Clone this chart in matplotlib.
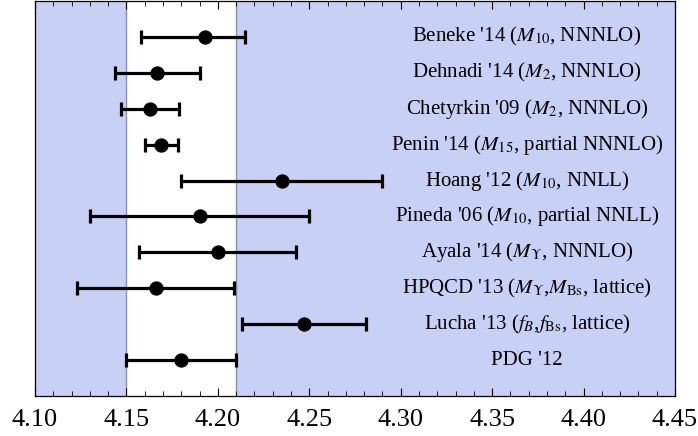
import matplotlib
matplotlib.use("Agg")
import matplotlib.pyplot as plt
from matplotlib.ticker import MultipleLocator, FormatStrFormatter

labels = [
    "Beneke '14 ($M_{10}$, NNNLO)",
    "Dehnadi '14 ($M_{2}$, NNNLO)",
    "Chetyrkin '09 ($M_{2}$, NNNLO)",
    "Penin '14 ($M_{15}$, partial NNNLO)",
    "Hoang '12 ($M_{10}$, NNLL)",
    "Pineda '06 ($M_{10}$, partial NNLL)",
    "Ayala '14 ($M_{\\Upsilon}$, NNNLO)",
    "HPQCD '13 ($M_{\\Upsilon}$,$M_{\\mathrm{Bs}}$, lattice)",
    "Lucha '13 ($f_{B}$,$f_{\\mathrm{Bs}}$, lattice)",
    "PDG '12",
]
centers = [4.193, 4.167, 4.163, 4.169, 4.235, 4.190, 4.200, 4.166, 4.247, 4.180]
err_low = [0.035, 0.023, 0.016, 0.009, 0.055, 0.060, 0.043, 0.043, 0.034, 0.030]
err_high = [0.022, 0.023, 0.016, 0.009, 0.055, 0.060, 0.043, 0.043, 0.034, 0.030]
band_low, band_high = 4.15, 4.21
xmin, xmax = 4.10, 4.45

plt.rcParams['font.family'] = ['Liberation Serif', 'DejaVu Serif']
plt.rcParams['mathtext.fontset'] = 'stix'

fig = plt.figure(figsize=(6.98, 4.36), dpi=100)
ax = fig.add_axes([0.0501, 0.0917, 0.9169, 0.906])

n = len(labels)
ys = [n - i for i in range(n)]

shade = '#c9d0f5'
edge = '#8a90b4'
ax.axvspan(xmin, band_low, color=shade, lw=0, zorder=0)
ax.axvspan(band_high, xmax, color=shade, lw=0, zorder=0)
ax.axvline(band_low, color=edge, lw=1.0, zorder=1)
ax.axvline(band_high, color=edge, lw=1.0, zorder=1)

ax.errorbar(centers, ys, xerr=[err_low, err_high], fmt='o', color='black',
            markersize=9.3, elinewidth=2.3, capsize=5, capthick=2.3, zorder=3)

text_x = 4.369
for y, lab in zip(ys, labels):
    ax.text(text_x, y, lab, ha='center', va='center', fontsize=15, zorder=4)

ax.set_xlim(xmin, xmax)
ax.set_ylim(0, n + 1)
ax.xaxis.set_major_locator(MultipleLocator(0.05))
ax.xaxis.set_minor_locator(MultipleLocator(0.01))
ax.xaxis.set_major_formatter(FormatStrFormatter('%.2f'))
ax.tick_params(axis='x', which='both', direction='in', top=True, bottom=True)
ax.tick_params(axis='x', which='major', length=6, width=0.8, labelsize=19, pad=9)
ax.tick_params(axis='x', which='minor', length=3.5, width=0.6)
ax.set_yticks([])
for s in ax.spines.values():
    s.set_linewidth(0.9)

fig.savefig('out.png', dpi=100)
